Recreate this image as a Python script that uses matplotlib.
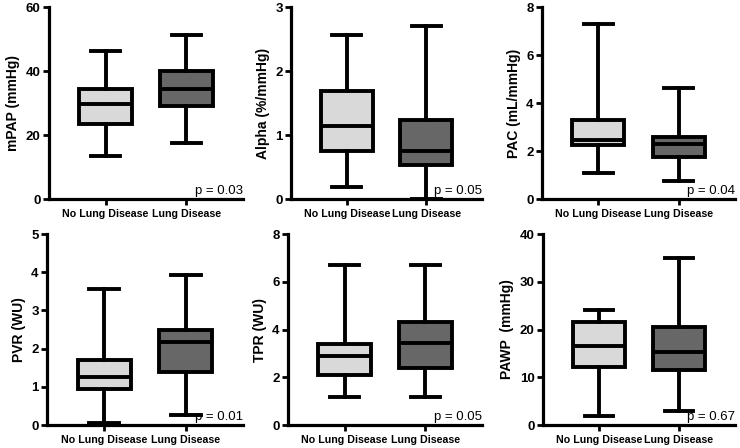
import matplotlib
matplotlib.use("Agg")
import matplotlib.pyplot as plt

plt.rcParams['font.family'] = ['Liberation Sans', 'DejaVu Sans']

groups = ['No Lung Disease', 'Lung Disease']

# five-number summaries per panel: [min, q1, median, q3, max] for each group
mpap = [[13.5, 23.4, 29.8, 34.4, 46.3], [17.4, 29.0, 34.3, 39.9, 51.2]]
alpha = [[0.19, 0.75, 1.14, 1.69, 2.56], [0.0, 0.53, 0.75, 1.23, 2.70]]
pac = [[1.08, 2.23, 2.44, 3.29, 7.31], [0.76, 1.73, 2.30, 2.60, 4.64]]
pvr = [[0.04, 0.93, 1.25, 1.70, 3.55], [0.26, 1.40, 2.16, 2.50, 3.93]]
tpr = [[1.16, 2.09, 2.88, 3.39, 6.72], [1.16, 2.39, 3.44, 4.33, 6.72]]
pawp = [[1.95, 12.2, 16.5, 21.5, 24.0], [3.0, 11.5, 15.3, 20.5, 35.0]]

ylabels = ['mPAP (mmHg)', 'Alpha (%/mmHg)', 'PAC (mL/mmHg)',
           'PVR (WU)', 'TPR (WU)', 'PAWP  (mmHg)']
ymax = [60, 3, 8, 5, 8, 40]
ystep = [20, 1, 2, 1, 2, 10]
pvals = ['p = 0.03', 'p = 0.05', 'p = 0.04', 'p = 0.01', 'p = 0.05', 'p = 0.67']
panels = [mpap, alpha, pac, pvr, tpr, pawp]

box_colors = ['#d9d9d9', '#676767']

fig = plt.figure(figsize=(7.4, 4.48), dpi=100)

# axes rectangles in pixels: left, top, right, bottom
rects = [(49, 7, 243, 199), (291, 7, 482, 199), (542, 7, 735, 199),
         (47, 234, 243, 425), (288, 234, 482, 425), (543, 234, 735, 425)]

for i, data in enumerate(panels):
    l, t, r, b = rects[i]
    ax = fig.add_axes([l / 740, 1 - b / 448, (r - l) / 740, (b - t) / 448])
    stats = []
    for g, s in zip(groups, data):
        stats.append(dict(whislo=s[0], q1=s[1], med=s[2], q3=s[3], whishi=s[4],
                          label=g, fliers=[]))
    bp = ax.bxp(stats, positions=[1, 2], widths=0.65, patch_artist=True,
                showfliers=False,
                boxprops=dict(linewidth=2.8, edgecolor='black'),
                medianprops=dict(color='black', linewidth=2.8),
                whiskerprops=dict(color='black', linewidth=2.8),
                capprops=dict(color='black', linewidth=2.8),
                capwidths=0.36)
    for patch, c in zip(bp['boxes'], box_colors):
        patch.set_facecolor(c)

    ax.set_xlim(0.3, 2.7)
    ax.set_ylim(0, ymax[i])
    ax.set_yticks([k * ystep[i] for k in range(int(ymax[i] / ystep[i]) + 1)])
    ax.set_xticks([1, 2])
    ax.set_xticklabels(groups, fontsize=7.7, fontweight='bold')
    for lab in ax.get_yticklabels():
        lab.set_fontweight('bold')
        lab.set_fontsize(9.5)
    ax.set_ylabel(ylabels[i], fontsize=10, fontweight='bold', labelpad=4)
    for side in ['top', 'right']:
        ax.spines[side].set_visible(False)
    for side in ['left', 'bottom']:
        ax.spines[side].set_linewidth(2.3)
    ax.tick_params(axis='both', width=2.0, length=4, pad=2)
    ax.tick_params(axis='x', pad=3)
    ax.text(1.0, 0.01, pvals[i], transform=ax.transAxes, ha='right',
            va='bottom', fontsize=9.5)

fig.savefig('out.png', dpi=100)
